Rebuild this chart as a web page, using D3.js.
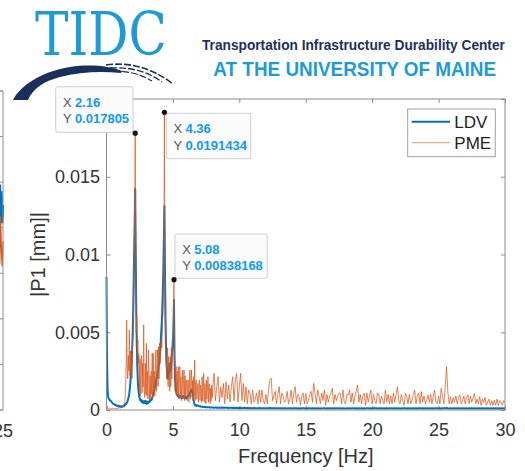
<!DOCTYPE html>
<html>
<head>
<meta charset="utf-8">
<script src="https://cdn.jsdelivr.net/npm/d3@7"></script>
<style>
  html, body { margin: 0; padding: 0; background: #fff; }
  svg { display: block; font-family: "Liberation Sans", Arial, sans-serif; }
</style>
</head>
<body>
<svg id="chart" width="525" height="471"></svg>
<script>
// ── Data ──
// Single-sided amplitude spectra, values in units of 1e-5 mm.
// Low band: 0 – 7.96 Hz at 0.04 Hz, high band: 8 – 30 Hz at 0.1 Hz.
const ldvLow = [
  855, 320, 130, 90, 75, 70, 65, 60, 58, 55,
  50, 45, 42, 40, 38, 35, 33, 30, 32, 28,
  26, 25, 28, 24, 22, 25, 20, 22, 24, 20,
  22, 25, 28, 24, 30, 35, 40, 38, 45, 52,
  60, 75, 90, 110, 140, 180, 230, 290, 370, 450,
  600, 800, 1000, 1200, 1421, 1000, 650, 420, 280, 180,
  130, 100, 80, 70, 60, 65, 55, 50, 60, 45,
  50, 55, 45, 60, 50, 40, 55, 48, 42, 50,
  50, 60, 55, 65, 70, 65, 80, 90, 100, 120,
  130, 150, 160, 190, 200, 220, 240, 260, 280, 300,
  330, 380, 430, 500, 560, 650, 760, 900, 1100, 1312,
  900, 600, 400, 300, 250, 220, 200, 230, 260, 300,
  280, 250, 300, 350, 400, 450, 520, 707, 350, 200,
  160, 120, 100, 95, 90, 85, 95, 80, 85, 90,
  80, 85, 75, 80, 90, 85, 80, 75, 85, 80,
  75, 80, 85, 90, 85, 95, 100, 110, 120, 125,
  130, 125, 110, 90, 60, 45, 35, 30, 28, 26,
  32, 30, 28, 26, 25, 24, 24, 22, 22, 21,
  20, 21, 20, 19, 20, 19, 18, 19, 18, 18,
  18, 17, 18, 17, 17, 16, 17, 16, 16, 16
];
const pmeLow = [
  30, 20, 15, 12, 10, 12, 10, 8, 10, 9,
  8, 10, 12, 9, 8, 10, 11, 9, 12, 10,
  12, 10, 14, 11, 13, 15, 12, 18, 14, 20,
  25, 18, 30, 40, 35, 80, 150, 300, 579, 250,
  200, 350, 250, 514, 220, 380, 260, 364, 200, 450,
  500, 650, 900, 1300, 1780, 1000, 500, 600, 350, 450,
  300, 364, 120, 330, 90, 280, 350, 110, 300, 150,
  547, 120, 80, 300, 100, 429, 90, 250, 70, 386,
  279, 60, 220, 80, 250, 100, 365, 70, 364, 110,
  250, 90, 300, 386, 120, 280, 386, 150, 407, 200,
  429, 300, 380, 450, 400, 500, 600, 700, 900, 1914,
  800, 500, 407, 200, 300, 400, 150, 343, 250, 120,
  343, 150, 400, 200, 350, 500, 600, 838, 300, 120,
  200, 279, 90, 250, 100, 279, 70, 200, 279, 80,
  214, 60, 180, 257, 70, 200, 257, 60, 220, 90,
  150, 193, 60, 170, 193, 50, 160, 257, 70, 180,
  257, 80, 190, 60, 214, 90, 321, 60, 180, 193,
  70, 120, 171, 50, 140, 193, 60, 160, 130, 50,
  214, 60, 150, 236, 50, 170, 130, 40, 193, 70,
  150, 214, 50, 170, 129, 40, 140, 60, 160, 80
];
const ldvHigh = [
  16, 15, 17, 15, 16, 14, 15, 16, 14, 15,
  14, 15, 13, 14, 15, 13, 14, 13, 14, 13,
  13, 14, 12, 13, 14, 12, 13, 12, 13, 12,
  12, 13, 12, 11, 12, 13, 12, 11, 12, 11,
  12, 11, 12, 13, 11, 12, 11, 12, 11, 12,
  11, 12, 11, 10, 12, 11, 10, 11, 12, 11,
  10, 11, 12, 11, 10, 11, 10, 12, 11, 10,
  11, 10, 11, 12, 10, 11, 10, 11, 10, 11,
  10, 11, 10, 12, 11, 10, 11, 10, 11, 10,
  11, 10, 11, 10, 12, 10, 11, 10, 11, 10,
  10, 11, 10, 11, 10, 12, 11, 10, 11, 10,
  11, 10, 11, 10, 11, 10, 12, 11, 10, 11,
  10, 11, 12, 11, 10, 11, 10, 11, 10, 11,
  10, 11, 10, 12, 11, 10, 11, 10, 11, 10,
  11, 10, 11, 10, 11, 12, 10, 11, 10, 11,
  10, 11, 10, 11, 10, 11, 12, 10, 11, 10,
  11, 10, 11, 10, 11, 10, 11, 10, 12, 11,
  10, 11, 10, 11, 12, 11, 13, 11, 10, 11,
  10, 11, 10, 11, 10, 11, 10, 11, 10, 11,
  10, 11, 10, 11, 10, 11, 10, 11, 10, 11,
  10, 11, 10, 11, 10, 11, 10, 11, 10, 11,
  10, 11, 10, 11, 10, 11, 10, 11, 10, 11,
  10
];
const pmeHigh = [
  140, 236, 60, 150, 214, 50, 150, 80, 171, 40,
  182, 70, 160, 50, 150, 214, 60, 193, 236, 50,
  150, 236, 60, 171, 50, 150, 40, 130, 107, 40,
  129, 50, 70, 110, 40, 129, 50, 129, 60, 40,
  100, 40, 130, 193, 204, 60, 90, 120, 40, 100,
  150, 40, 110, 86, 50, 60, 120, 40, 70, 129,
  40, 110, 150, 50, 100, 86, 30, 90, 110, 40,
  107, 40, 60, 100, 120, 50, 171, 110, 40, 129,
  90, 40, 110, 60, 129, 30, 100, 50, 90, 107,
  140, 40, 100, 60, 90, 110, 107, 40, 129, 50,
  40, 100, 97, 129, 50, 110, 40, 90, 120, 161,
  50, 100, 40, 90, 107, 30, 110, 50, 90, 129,
  40, 100, 60, 40, 110, 97, 40, 90, 60, 40,
  129, 50, 100, 40, 90, 40, 110, 50, 100, 150,
  60, 40, 100, 60, 30, 107, 90, 40, 100, 40,
  60, 100, 129, 40, 90, 110, 40, 118, 50, 90,
  40, 60, 97, 50, 100, 40, 90, 129, 50, 40,
  90, 40, 140, 80, 40, 150, 279, 110, 40, 86,
  40, 80, 50, 90, 40, 80, 97, 40, 60, 90,
  40, 80, 97, 40, 90, 50, 80, 107, 40, 70,
  40, 86, 30, 70, 50, 80, 30, 54, 70, 30,
  60, 30, 64, 30, 70, 30, 60, 54, 30, 60,
  50
];

// Frequency grids matching the arrays above
const freqLow  = d3.range(ldvLow.length).map(i => +(i * 0.04).toFixed(2));
const freqHigh = d3.range(ldvHigh.length).map(i => +(8 + i * 0.1).toFixed(1));

// Axis ticks (the 0.02 label sits under the first data tip, so it is not shown)
const xTicks = [0, 5, 10, 15, 20, 25, 30];
const yTicks = [0, 0.005, 0.01, 0.015, 0.02];
const yTickLabels = ["0", "0.005", "0.01", "0.015", ""];

// Legend
const seriesNames  = ["LDV", "PME"];
const seriesColors = ["#0072BD", "#D95319"];

// Data tips (MATLAB datatips)
const tipX      = [2.16, 4.36, 5.08];
const tipY      = [0.017805, 0.0191434, 0.00838168];
const tipXText  = ["2.16", "4.36", "5.08"];
const tipYText  = ["0.017805", "0.0191434", "0.00838168"];

// Sliver of the neighbouring (left) subplot that is cut off at the image edge
const leftT    = [24.80, 24.84, 24.88, 24.92, 24.96, 25.00];
const leftLDV  = [4.60, 4.95, 4.20, 4.80, 4.10, 4.50];
const leftPME  = [3.90, 3.20, 4.25, 3.50, 3.15, 3.70];
const leftYTicks = [0, 1, 2, 3, 4, 5, 6, 7];

// ── Setup ──
const svg = d3.select('#chart');
svg.append('rect').attr('width', 525).attr('height', 471).attr('fill', '#fff');

const M = { left: 106.5, right: 505, top: 99, bottom: 410 };
const x = d3.scaleLinear().domain([0, 30]).range([M.left, M.right]);
const y = d3.scaleLinear().domain([0, 0.02]).range([M.bottom, M.top]);

const toPts = (freqs, vals) => freqs.map((f, i) => [f, vals[i] * 1e-5]);
const ldv = toPts(freqLow, ldvLow).concat(toPts(freqHigh, ldvHigh));
const pme = toPts(freqLow, pmeLow).concat(toPts(freqHigh, pmeHigh));

const line = d3.line().x(d => x(d[0])).y(d => y(d[1]));

// ── Left neighbouring subplot fragment ──
const lx = d3.scaleLinear().domain([24.8, 25]).range([-1, 3]);
const ly = d3.scaleLinear().domain([0, 7]).range([410, 91]);
const leftG = svg.append('g');
leftG.append('path')
  .attr('d', d3.line().x((d, i) => lx(leftT[i])).y(d => ly(d))(leftLDV))
  .attr('fill', 'none').attr('stroke', seriesColors[0]).attr('stroke-width', 2.5);
leftG.append('path')
  .attr('d', d3.line().x((d, i) => lx(leftT[i])).y(d => ly(d))(leftPME))
  .attr('fill', 'none').attr('stroke', seriesColors[1]).attr('stroke-width', 1.2);
leftG.append('path')
  .attr('d', `M-2,${ly(7)}H${lx(25)}V${ly(0)}H-2`)
  .attr('fill', 'none').attr('stroke', '#8c8c8c').attr('stroke-width', 1);
leftG.selectAll('.lt').data(leftYTicks).enter().append('line')
  .attr('x1', lx(25) - 4).attr('x2', lx(25))
  .attr('y1', d => ly(d)).attr('y2', d => ly(d))
  .attr('stroke', '#8c8c8c');
leftG.append('text').attr('x', lx(25)).attr('y', 436.5)
  .attr('text-anchor', 'middle').attr('font-size', 18).attr('fill', '#333').text('25');

// ── Logo header ──
const logo = svg.append('g');
logo.append('text').attr('x', 35).attr('y', 55)
  .attr('font-family', '"DejaVu Serif", serif').attr('font-size', 59)
  .attr('textLength', 132).attr('lengthAdjust', 'spacingAndGlyphs')
  .attr('fill', '#1e9bd7').text('TIDC');
logo.append('path')
  .attr('d', 'M13,100 C20,86 40,72 70,67 C90,64 110,66 122,71 L121,73 C100,71 80,72 60,77 C45,81 33,88 28,100 Z')
  .attr('fill', '#1b2f5c');
[['M106,65 Q142,60 173,84', 1.6], ['M110,68 Q140,66 162,82', 1.3], ['M113,71 Q136,71 152,81', 1.1]]
  .forEach(([d, w]) => logo.append('path').attr('d', d).attr('fill', 'none')
    .attr('stroke', '#1b2f5c').attr('stroke-width', w).attr('stroke-dasharray', '7,2'));

// Condensed header lines: squeeze horizontally to the target width
function condensed(text, x0, y0, size, width, color) {
  const t = logo.append('text').attr('x', 0).attr('y', 0)
    .attr('font-family', '"Liberation Sans Narrow", "Liberation Sans", sans-serif')
    .attr('font-size', size).attr('font-weight', 'bold').attr('fill', color).text(text);
  const natural = t.node().getComputedTextLength();
  t.attr('transform', `translate(${x0},${y0}) scale(${width / natural},1)`);
}
condensed('Transportation Infrastructure Durability Center', 202, 50, 15, 303, '#1d2f5a');
condensed('AT THE UNIVERSITY OF MAINE', 213.3, 75.7, 21, 283, '#1e9bd7');

// ── Axes ──
const axisColor = '#8c8c8c';
svg.append('g').attr('transform', `translate(0,${M.bottom})`)
  .call(d3.axisBottom(x).tickValues(xTicks).tickSize(-4).tickPadding(13));
svg.append('g').attr('transform', `translate(${M.left},0)`)
  .call(d3.axisLeft(y).tickValues(yTicks).tickSize(-4).tickPadding(6.5)
    .tickFormat((d, i) => yTickLabels[i]));
svg.append('g').attr('transform', `translate(0,${M.top})`)
  .call(d3.axisTop(x).tickValues(xTicks).tickSize(-4).tickFormat(''));
svg.append('g').attr('transform', `translate(${M.right},0)`)
  .call(d3.axisRight(y).tickValues(yTicks).tickSize(-4).tickFormat(''));
svg.selectAll('.domain').remove();
svg.selectAll('.tick line').attr('stroke', axisColor);
svg.selectAll('.tick text').filter(function() { return !this.textContent; }).remove();
svg.selectAll('.tick text').attr('font-size', 18).attr('fill', '#333')
  .attr('font-family', '"Liberation Sans", Arial, sans-serif');

// ── Spectra ──
svg.append('path').datum(ldv).attr('d', line)
  .attr('fill', 'none').attr('stroke', seriesColors[0]).attr('stroke-width', 2)
  .attr('stroke-linejoin', 'round');
svg.append('path').datum(pme).attr('d', line)
  .attr('fill', 'none').attr('stroke', seriesColors[1]).attr('stroke-width', 0.9)
  .attr('stroke-opacity', 0.8).attr('stroke-linejoin', 'round');

// Axes box on top
svg.append('rect').attr('x', M.left).attr('y', M.top)
  .attr('width', M.right - M.left).attr('height', M.bottom - M.top)
  .attr('fill', 'none').attr('stroke', axisColor).attr('stroke-width', 1);

// Axis labels
svg.append('text').attr('x', (M.left + M.right) / 2).attr('y', 463)
  .attr('text-anchor', 'middle').attr('font-size', 20).attr('fill', '#333')
  .text('Frequency [Hz]');
svg.append('text').attr('transform', `translate(45,${(M.top + M.bottom) / 2}) rotate(-90)`)
  .attr('text-anchor', 'middle').attr('font-size', 20).attr('fill', '#333')
  .text('|P1 [mm]|');

// ── Legend ──
const lg = svg.append('g');
lg.append('rect').attr('x', 407.7).attr('y', 109).attr('width', 87.6).attr('height', 47.7)
  .attr('fill', '#fff').attr('stroke', '#a0a0a0');
seriesNames.forEach((name, i) => {
  const ly0 = [121.7, 142.7][i];
  lg.append('line').attr('x1', 411.7).attr('x2', 450).attr('y1', ly0).attr('y2', ly0)
    .attr('stroke', seriesColors[i]).attr('stroke-width', i === 0 ? 2 : 1)
    .attr('stroke-opacity', i === 0 ? 1 : 0.6);
  lg.append('text').attr('x', 454.3).attr('y', ly0 + 6.3)
    .attr('font-size', 17).attr('fill', '#222').text(name);
});

// ── Data tips ──
// box offset (dx, dy) from the marked point plus box size
const tipBox = [
  { dx: -79.5, dy: -46.4, w: 77.3, h: 45.6 },
  { dx: 1.9,   dy: 1.0,   w: 84.4, h: 45.4 },
  { dx: 1.0,   dy: -45.7, w: 92.3, h: 44.3 }
];
tipX.forEach((tx, i) => {
  const px = x(tx), py = y(tipY[i]), b = tipBox[i];
  const g = svg.append('g').attr('transform', `translate(${px + b.dx},${py + b.dy})`);
  g.append('rect').attr('width', b.w).attr('height', b.h).attr('rx', 2)
    .attr('fill', '#fbfbfb').attr('stroke', '#cfcfcf');
  [['X', tipXText[i]], ['Y', tipYText[i]]].forEach(([k, v], j) => {
    const t = g.append('text').attr('x', 7.2).attr('y', 20 + j * 16.3).attr('font-size', 13);
    t.append('tspan').attr('fill', '#555').text(k);
    t.append('tspan').attr('x', 19.2).attr('fill', '#0f9af5').attr('font-weight', 'bold').text(v);
  });
  svg.append('circle').attr('cx', px).attr('cy', py).attr('r', 2.6).attr('fill', '#111');
});
</script>
</body>
</html>
